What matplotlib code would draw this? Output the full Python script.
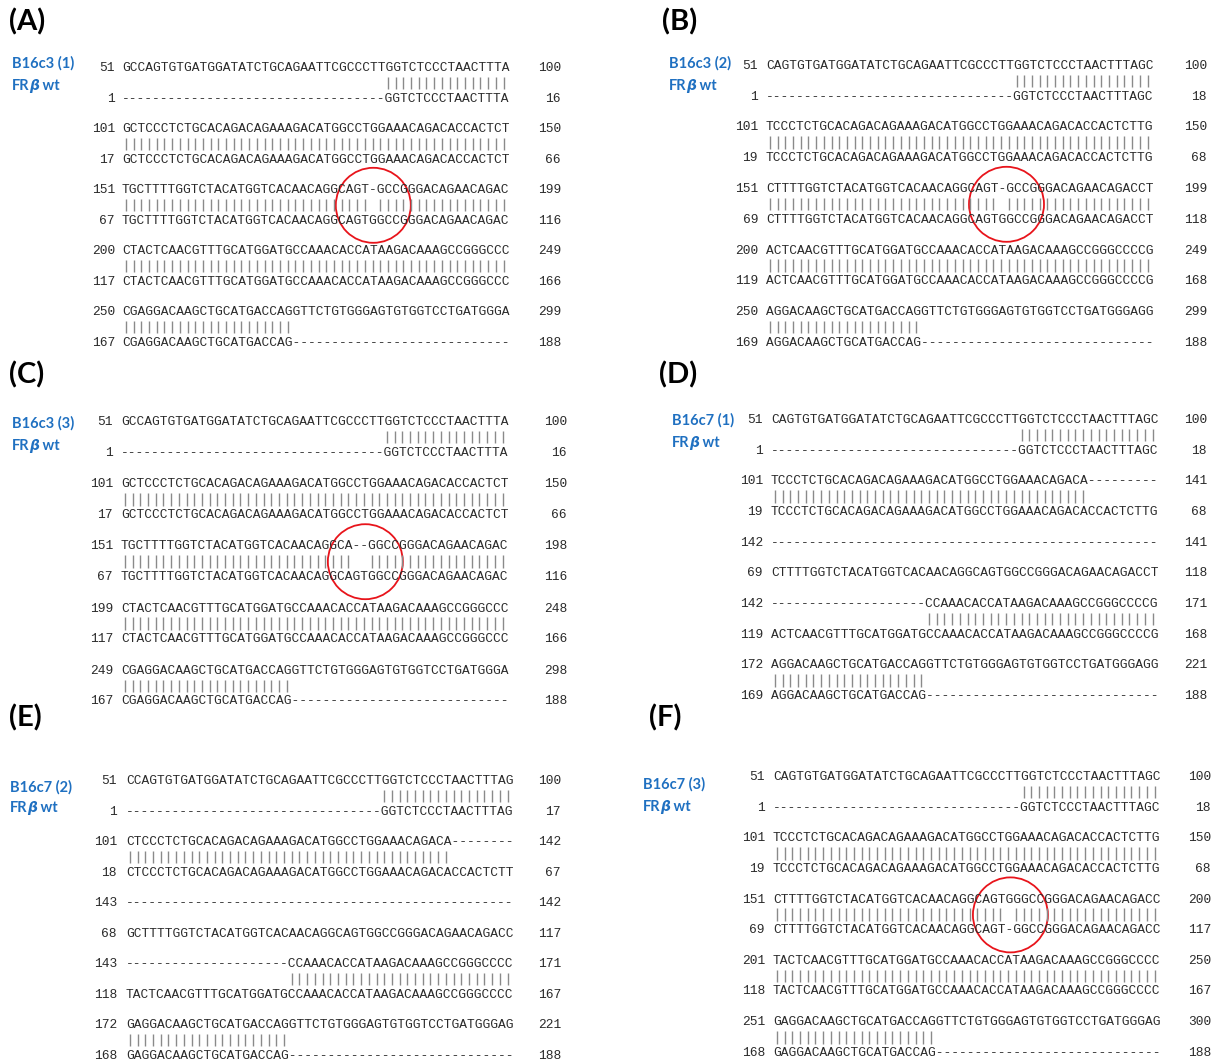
import matplotlib
matplotlib.use("Agg")
import matplotlib.pyplot as plt
from matplotlib.patches import Circle, Rectangle

# ---------------- data ----------------
panel_letters = ["(A)", "(B)", "(C)", "(D)", "(E)", "(F)"]
sample_names = ["B16c3 (1)", "B16c3 (2)", "B16c3 (3)", "B16c7 (1)", "B16c7 (2)", "B16c7 (3)"]
ref_name_parts = [("FR", "normal"), ("β", "italic"), (" wt", "normal")]

# Panel A  (B16c3 (1) vs FRβ wt)
a_query = ["GCCAGTGTGATGGATATCTGCAGAATTCGCCCTTGGTCTCCCTAACTTTA",
           "GCTCCCTCTGCACAGACAGAAAGACATGGCCTGGAAACAGACACCACTCT",
           "TGCTTTTGGTCTACATGGTCACAACAGGCAGT-GCCGGGACAGAACAGAC",
           "CTACTCAACGTTTGCATGGATGCCAAACACCATAAGACAAAGCCGGGCCC",
           "CGAGGACAAGCTGCATGACCAGGTTCTGTGGGAGTGTGGTCCTGATGGGA"]
a_query_start = [51, 101, 151, 200, 250]
a_query_end = [100, 150, 199, 249, 299]
a_ref = ["----------------------------------GGTCTCCCTAACTTTA",
         "GCTCCCTCTGCACAGACAGAAAGACATGGCCTGGAAACAGACACCACTCT",
         "TGCTTTTGGTCTACATGGTCACAACAGGCAGTGGCCGGGACAGAACAGAC",
         "CTACTCAACGTTTGCATGGATGCCAAACACCATAAGACAAAGCCGGGCCC",
         "CGAGGACAAGCTGCATGACCAG----------------------------"]
a_ref_start = [1, 17, 67, 117, 167]
a_ref_end = [16, 66, 116, 166, 188]

# Panel B  (B16c3 (2))
b_query = ["CAGTGTGATGGATATCTGCAGAATTCGCCCTTGGTCTCCCTAACTTTAGC",
           "TCCCTCTGCACAGACAGAAAGACATGGCCTGGAAACAGACACCACTCTTG",
           "CTTTTGGTCTACATGGTCACAACAGGCAGT-GCCGGGACAGAACAGACCT",
           "ACTCAACGTTTGCATGGATGCCAAACACCATAAGACAAAGCCGGGCCCCG",
           "AGGACAAGCTGCATGACCAGGTTCTGTGGGAGTGTGGTCCTGATGGGAGG"]
b_query_start = [51, 101, 151, 200, 250]
b_query_end = [100, 150, 199, 249, 299]
b_ref = ["--------------------------------GGTCTCCCTAACTTTAGC",
         "TCCCTCTGCACAGACAGAAAGACATGGCCTGGAAACAGACACCACTCTTG",
         "CTTTTGGTCTACATGGTCACAACAGGCAGTGGCCGGGACAGAACAGACCT",
         "ACTCAACGTTTGCATGGATGCCAAACACCATAAGACAAAGCCGGGCCCCG",
         "AGGACAAGCTGCATGACCAG------------------------------"]
b_ref_start = [1, 19, 69, 119, 169]
b_ref_end = [18, 68, 118, 168, 188]

# Panel C  (B16c3 (3))
c_query = ["GCCAGTGTGATGGATATCTGCAGAATTCGCCCTTGGTCTCCCTAACTTTA",
           "GCTCCCTCTGCACAGACAGAAAGACATGGCCTGGAAACAGACACCACTCT",
           "TGCTTTTGGTCTACATGGTCACAACAGGCA--GGCCGGGACAGAACAGAC",
           "CTACTCAACGTTTGCATGGATGCCAAACACCATAAGACAAAGCCGGGCCC",
           "CGAGGACAAGCTGCATGACCAGGTTCTGTGGGAGTGTGGTCCTGATGGGA"]
c_query_start = [51, 101, 151, 199, 249]
c_query_end = [100, 150, 198, 248, 298]
c_ref = ["----------------------------------GGTCTCCCTAACTTTA",
         "GCTCCCTCTGCACAGACAGAAAGACATGGCCTGGAAACAGACACCACTCT",
         "TGCTTTTGGTCTACATGGTCACAACAGGCAGTGGCCGGGACAGAACAGAC",
         "CTACTCAACGTTTGCATGGATGCCAAACACCATAAGACAAAGCCGGGCCC",
         "CGAGGACAAGCTGCATGACCAG----------------------------"]
c_ref_start = [1, 17, 67, 117, 167]
c_ref_end = [16, 66, 116, 166, 188]

# Panel D  (B16c7 (1))
d_query = ["CAGTGTGATGGATATCTGCAGAATTCGCCCTTGGTCTCCCTAACTTTAGC",
           "TCCCTCTGCACAGACAGAAAGACATGGCCTGGAAACAGACA---------",
           "--------------------------------------------------",
           "--------------------CCAAACACCATAAGACAAAGCCGGGCCCCG",
           "AGGACAAGCTGCATGACCAGGTTCTGTGGGAGTGTGGTCCTGATGGGAGG"]
d_query_start = [51, 101, 142, 142, 172]
d_query_end = [100, 141, 141, 171, 221]
d_ref = ["--------------------------------GGTCTCCCTAACTTTAGC",
         "TCCCTCTGCACAGACAGAAAGACATGGCCTGGAAACAGACACCACTCTTG",
         "CTTTTGGTCTACATGGTCACAACAGGCAGTGGCCGGGACAGAACAGACCT",
         "ACTCAACGTTTGCATGGATGCCAAACACCATAAGACAAAGCCGGGCCCCG",
         "AGGACAAGCTGCATGACCAG------------------------------"]
d_ref_start = [1, 19, 69, 119, 169]
d_ref_end = [18, 68, 118, 168, 188]

# Panel E  (B16c7 (2))
e_query = ["CCAGTGTGATGGATATCTGCAGAATTCGCCCTTGGTCTCCCTAACTTTAG",
           "CTCCCTCTGCACAGACAGAAAGACATGGCCTGGAAACAGACA--------",
           "--------------------------------------------------",
           "---------------------CCAAACACCATAAGACAAAGCCGGGCCCC",
           "GAGGACAAGCTGCATGACCAGGTTCTGTGGGAGTGTGGTCCTGATGGGAG"]
e_query_start = [51, 101, 143, 143, 172]
e_query_end = [100, 142, 142, 171, 221]
e_ref = ["---------------------------------GGTCTCCCTAACTTTAG",
         "CTCCCTCTGCACAGACAGAAAGACATGGCCTGGAAACAGACACCACTCTT",
         "GCTTTTGGTCTACATGGTCACAACAGGCAGTGGCCGGGACAGAACAGACC",
         "TACTCAACGTTTGCATGGATGCCAAACACCATAAGACAAAGCCGGGCCCC",
         "GAGGACAAGCTGCATGACCAG-----------------------------"]
e_ref_start = [1, 18, 68, 118, 168]
e_ref_end = [17, 67, 117, 167, 188]

# Panel F  (B16c7 (3))
f_query = ["CAGTGTGATGGATATCTGCAGAATTCGCCCTTGGTCTCCCTAACTTTAGC",
           "TCCCTCTGCACAGACAGAAAGACATGGCCTGGAAACAGACACCACTCTTG",
           "CTTTTGGTCTACATGGTCACAACAGGCAGTGGGCCGGGACAGAACAGACC",
           "TACTCAACGTTTGCATGGATGCCAAACACCATAAGACAAAGCCGGGCCCC",
           "GAGGACAAGCTGCATGACCAGGTTCTGTGGGAGTGTGGTCCTGATGGGAG"]
f_query_start = [51, 101, 151, 201, 251]
f_query_end = [100, 150, 200, 250, 300]
f_ref = ["--------------------------------GGTCTCCCTAACTTTAGC",
         "TCCCTCTGCACAGACAGAAAGACATGGCCTGGAAACAGACACCACTCTTG",
         "CTTTTGGTCTACATGGTCACAACAGGCAGT-GGCCGGGACAGAACAGACC",
         "TACTCAACGTTTGCATGGATGCCAAACACCATAAGACAAAGCCGGGCCCC",
         "GAGGACAAGCTGCATGACCAG-----------------------------"]
f_ref_start = [1, 19, 69, 118, 168]
f_ref_end = [18, 68, 117, 167, 188]

# circled mutation site: (block index, alignment column) or None
circled_site = [(2, 32.6), (2, 31.2), (2, 31.7), None, None, (2, 30.8)]

# ---------------- layout (pixels) ----------------
W, H = 1218, 1064
layout = [
    dict(seq_x=122, y0=68, bdy=61.0, ln=115, rn=561, lab=(12, 63), lab2=(12, 86), let=(9, 22), clip=None),
    dict(seq_x=766, y0=66, bdy=61.5, ln=758, rn=1207, lab=(669, 63), lab2=(669, 86), let=(662, 22), clip=729),
    dict(seq_x=121, y0=422, bdy=62.2, ln=113, rn=567, lab=(12, 423), lab2=(12, 446), let=(9, 375), clip=None),
    dict(seq_x=771, y0=420, bdy=61.3, ln=763, rn=1207, lab=(672, 420), lab2=(672, 443), let=(659, 375), clip=None),
    dict(seq_x=126, y0=781, bdy=61.0, ln=117, rn=561, lab=(10, 787), lab2=(10, 808), let=(9, 718), clip=None),
    dict(seq_x=773, y0=777, bdy=61.3, ln=765, rn=1211, lab=(643, 784), lab2=(643, 807), let=(649, 718), clip=None),
]
ROW = 15.3          # distance between query, match bars and reference line
MONO = "Liberation Mono"
FS = 9.25           # pt -> 0.6*FS*100/72 ~ 7.7 px per character
CW = 0.6 * FS * 100 / 72
SEQ_C = "#2a2a2a"
BAR_C = "#8a8a8a"
BLUE = "#1F70C1"

fig = plt.figure(figsize=(W / 100, H / 100), dpi=100)
ax = fig.add_axes([0, 0, 1, 1])
ax.set_xlim(0, W)
ax.set_ylim(H, 0)
ax.axis("off")
renderer = fig.canvas.get_renderer()

panels = [
    (a_query, a_query_start, a_query_end, a_ref, a_ref_start, a_ref_end),
    (b_query, b_query_start, b_query_end, b_ref, b_ref_start, b_ref_end),
    (c_query, c_query_start, c_query_end, c_ref, c_ref_start, c_ref_end),
    (d_query, d_query_start, d_query_end, d_ref, d_ref_start, d_ref_end),
    (e_query, e_query_start, e_query_end, e_ref, e_ref_start, e_ref_end),
    (f_query, f_query_start, f_query_end, f_ref, f_ref_start, f_ref_end),
]


def match_columns(q, r):
    return [j for j, (a, b) in enumerate(zip(q, r)) if a == b and a != "-"]


for i, (q, qs, qe, r, rs, re_, ) in enumerate(panels):
    L = layout[i]
    # panel letter
    ax.text(L["let"][0], L["let"][1], panel_letters[i], family="Lato", weight="bold",
            size=21, ha="left", va="center", color="black")
    # sample name
    t = ax.text(L["lab"][0], L["lab"][1], sample_names[i], family="Lato", weight="bold",
                size=10.5, ha="left", va="center", color=BLUE)
    if L["clip"] is not None:
        cp = Rectangle((0, 0), L["clip"], H, transform=ax.transData, visible=False)
        ax.add_patch(cp)
        t.set_clip_path(cp)
    # reference name with italic beta
    x = L["lab2"][0]
    for s, style in ref_name_parts:
        fam = ["Lato", "DejaVu Sans"] if style == "normal" else ["DejaVu Sans"]
        tt = ax.text(x, L["lab2"][1], s, family=fam, weight="bold", style=style,
                     size=10.5 if style == "normal" else 10, ha="left", va="center", color=BLUE)
        x += tt.get_window_extent(renderer).width
    # alignment blocks
    for b in range(len(q)):
        y = L["y0"] + b * L["bdy"]
        ax.text(L["seq_x"], y, q[b], family=MONO, size=FS, ha="left", va="center", color=SEQ_C)
        cols = match_columns(q[b], r[b])
        if cols:
            xs = [L["seq_x"] + (j + 0.5) * CW for j in cols]
            ax.vlines(xs, y + ROW - 6.5, y + ROW + 6.0, colors=BAR_C, lw=1.0)
        ax.text(L["seq_x"], y + 2 * ROW, r[b], family=MONO, size=FS, ha="left", va="center", color=SEQ_C)
        ax.text(L["ln"], y, str(qs[b]), family=MONO, size=FS, ha="right", va="center", color=SEQ_C)
        ax.text(L["ln"], y + 2 * ROW, str(rs[b]), family=MONO, size=FS, ha="right", va="center", color=SEQ_C)
        ax.text(L["rn"], y, str(qe[b]), family=MONO, size=FS, ha="right", va="center", color=SEQ_C)
        ax.text(L["rn"], y + 2 * ROW, str(re_[b]), family=MONO, size=FS, ha="right", va="center", color=SEQ_C)
    # circled mutation
    if circled_site[i] is not None:
        blk, col = circled_site[i]
        cx = L["seq_x"] + col * CW
        cy = L["y0"] + blk * L["bdy"] + ROW
        ax.add_patch(Circle((cx, cy), 37.5, fill=False, edgecolor="#e8141b", lw=1.3))

fig.savefig("out.png", dpi=100)
